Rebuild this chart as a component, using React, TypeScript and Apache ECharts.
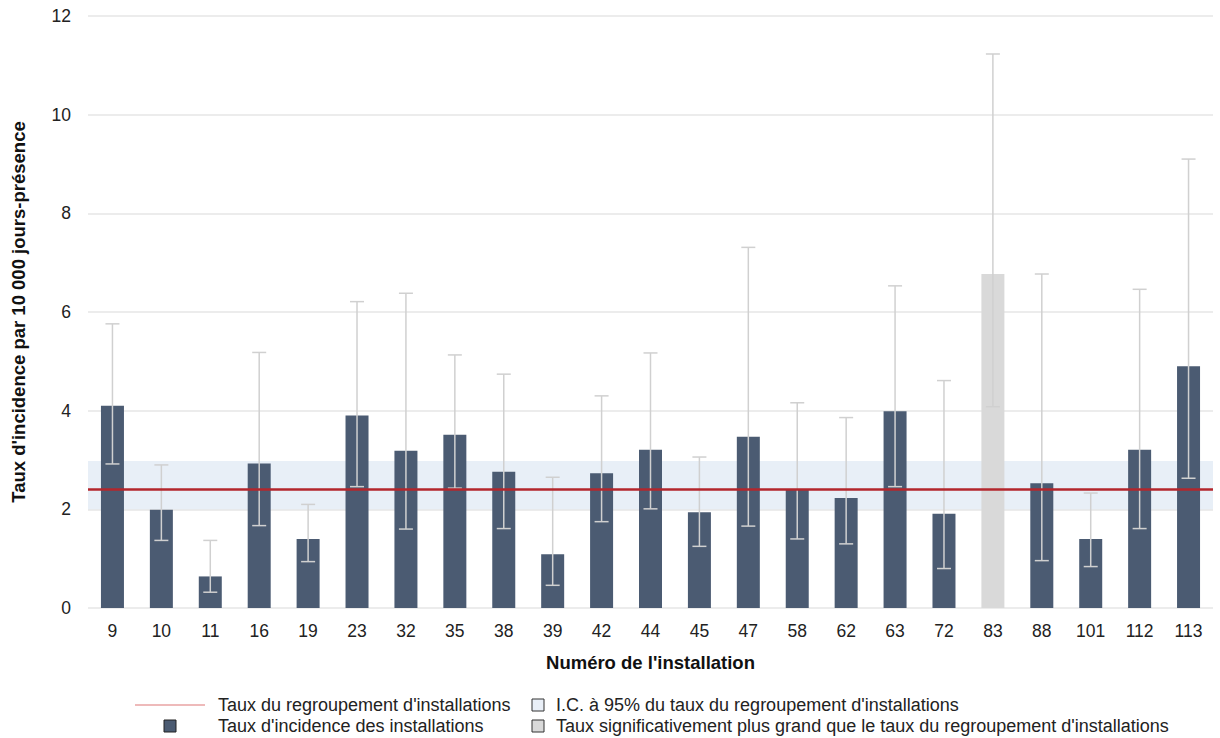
import React, { useEffect, useRef } from "react";
import * as echarts from "echarts";

// Installation numbers on the x axis
const installations = [
  "9", "10", "11", "16", "19", "23", "32", "35", "38", "39", "42", "44",
  "45", "47", "58", "62", "63", "72", "83", "88", "101", "112", "113",
];

// Incidence rate per 10 000 patient-days
const rates = [
  4.1, 1.99, 0.64, 2.93, 1.4, 3.9, 3.19, 3.51, 2.76, 1.09, 2.73, 3.21,
  1.94, 3.47, 2.41, 2.23, 3.99, 1.91, 6.77, 2.53, 1.4, 3.21, 4.9,
];

// 95% confidence interval bounds
const ciLow = [
  2.92, 1.37, 0.32, 1.67, 0.94, 2.46, 1.6, 2.43, 1.61, 0.46, 1.75, 2.01,
  1.25, 1.66, 1.4, 1.3, 2.46, 0.8, 4.08, 0.96, 0.84, 1.61, 2.63,
];
const ciHigh = [
  5.76, 2.9, 1.37, 5.18, 2.1, 6.21, 6.38, 5.13, 4.74, 2.65, 4.3, 5.17,
  3.06, 7.31, 4.16, 3.86, 6.53, 4.61, 11.23, 6.77, 2.33, 6.46, 9.1,
];

// Installations significantly above the pooled rate
const significant = ["83"];

// Pooled rate and its 95% CI
const pooledRate = 2.41;
const pooledCI = [2.0, 2.98];

const yTicks = { min: 0, max: 12, interval: 2 };

const BAR = "#4b5b72";
const BAR_SIG = "#d9d9d9";
const ERR = "#d0d0d0";
const RED = "#b3262c";
const FONT = "'Liberation Sans', Arial, sans-serif";
const TXT = 17.5;
const LEGEND_TXT = 18;

export default function App() {
  const ref = useRef<HTMLDivElement>(null);

  useEffect(() => {
    document.body.style.margin = "0";
    if (!ref.current) return;
    const chart = echarts.init(ref.current, undefined, { renderer: "svg" });

    const barData = rates.map((v, i) => ({
      value: v,
      itemStyle: {
        color: significant.includes(installations[i]) ? BAR_SIG : BAR,
      },
    }));
    const errData = installations.map((_, i) => [i, ciLow[i], ciHigh[i]]);

    const legendText = (x: number, y: number, text: string) => ({
      type: "text",
      x,
      y,
      style: { text, fill: "#222", font: `${LEGEND_TXT}px ${FONT}`, verticalAlign: "middle" },
    });

    chart.setOption({
      animation: false,
      textStyle: { fontFamily: FONT },
      grid: { left: 88, right: 7, top: 16, bottom: 130 },
      xAxis: {
        type: "category",
        data: installations,
        axisLine: { show: false },
        axisTick: { show: false },
        axisLabel: { color: "#222", fontSize: TXT, margin: 14, fontFamily: FONT },
        name: "Numéro de l'installation",
        nameLocation: "middle",
        nameGap: 45,
        nameTextStyle: { fontSize: 18.5, fontWeight: "bold", color: "#111", fontFamily: FONT },
      },
      yAxis: {
        type: "value",
        min: yTicks.min,
        max: yTicks.max,
        interval: yTicks.interval,
        axisLine: { show: false },
        axisTick: { show: false },
        axisLabel: { color: "#222", fontSize: TXT, margin: 17, fontFamily: FONT },
        splitLine: { lineStyle: { color: "#e6e6e6", width: 1.5 } },
        name: "Taux d'incidence par 10 000 jours-présence",
        nameLocation: "middle",
        nameGap: 60,
        nameTextStyle: { fontSize: 18.5, fontWeight: "bold", color: "#111", fontFamily: FONT },
      },
      series: [
        {
          type: "bar",
          data: barData,
          barWidth: 23,
          z: 2,
        },
        {
          // Pooled-rate confidence band, drawn over the bars
          type: "line",
          data: [],
          z: 3,
          markArea: {
            silent: true,
            itemStyle: { color: "rgba(146,179,217,0.21)" },
            data: [[{ yAxis: pooledCI[0] }, { yAxis: pooledCI[1] }]],
          },
        },
        {
          type: "custom",
          z: 4,
          data: errData,
          encode: { x: 0, y: [1, 2] },
          renderItem: (params: any, api: any) => {
            const x = api.value(0);
            const lo = api.coord([x, api.value(1)]);
            const hi = api.coord([x, api.value(2)]);
            const hw = 7;
            const style = { stroke: ERR, lineWidth: 1.5 };
            return {
              type: "group",
              children: [
                { type: "line", shape: { x1: lo[0], y1: lo[1], x2: hi[0], y2: hi[1] }, style },
                { type: "line", shape: { x1: hi[0] - hw, y1: hi[1], x2: hi[0] + hw, y2: hi[1] }, style },
                { type: "line", shape: { x1: lo[0] - hw, y1: lo[1], x2: lo[0] + hw, y2: lo[1] }, style },
              ],
            };
          },
        },
        {
          // Pooled rate line
          type: "line",
          data: [],
          z: 5,
          markLine: {
            silent: true,
            symbol: "none",
            label: { show: false },
            lineStyle: { color: RED, width: 2.5, type: "solid" },
            data: [{ yAxis: pooledRate }],
          },
        },
      ],
      graphic: [
        // Legend row 1
        { type: "line", shape: { x1: 135, y1: 705, x2: 205, y2: 705 }, style: { stroke: "#e8a3a3", lineWidth: 1.5 } },
        legendText(218, 705, "Taux du regroupement d'installations"),
        { type: "rect", shape: { x: 532, y: 699, width: 12, height: 12 }, style: { fill: "#e9eff7", stroke: "#333", lineWidth: 1 } },
        legendText(556, 705, "I.C. à 95% du taux du regroupement d'installations"),
        // Legend row 2
        { type: "rect", shape: { x: 164, y: 720, width: 12, height: 12 }, style: { fill: BAR, stroke: "#222", lineWidth: 1 } },
        legendText(218, 726, "Taux d'incidence des installations"),
        { type: "rect", shape: { x: 532, y: 720, width: 12, height: 12 }, style: { fill: BAR_SIG, stroke: "#333", lineWidth: 1 } },
        legendText(556, 726, "Taux significativement plus grand que le taux du regroupement d'installations"),
      ],
    });

    return () => chart.dispose();
  }, []);

  return <div ref={ref} style={{ width: 1220, height: 738 }} />;
}
